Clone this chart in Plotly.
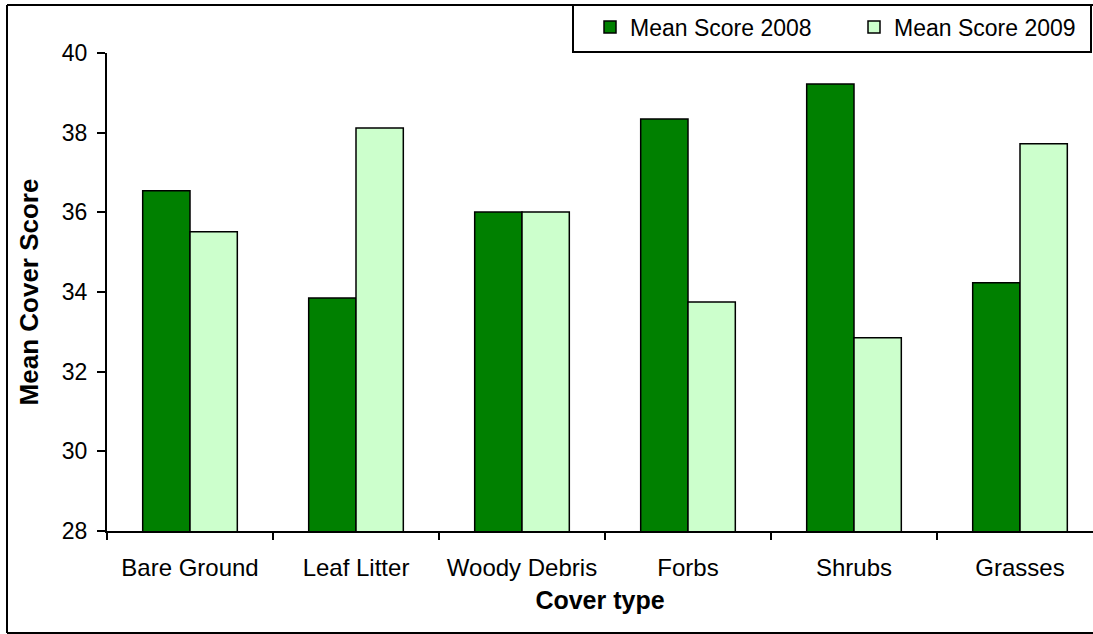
import plotly.graph_objects as go

categories = ["Bare Ground", "Leaf Litter", "Woody Debris", "Forbs", "Shrubs", "Grasses"]
score_2008 = [36.54, 33.85, 36.01, 38.34, 39.22, 34.23]
score_2009 = [35.51, 38.12, 36.01, 33.75, 32.85, 37.72]
y_ticks = [28, 30, 32, 34, 36, 38, 40]

W, H = 1093, 634
L, R, T, B = 107, 0, 53, 103
pw = W - L - R
ph = H - T - B

def px_x(x):
    return (x - L) / pw

def px_y(y):
    return (H - B - y) / ph

fig = go.Figure()
fig.add_trace(go.Bar(name="Mean Score 2008", x=categories, y=score_2008, legend="legend",
                     marker=dict(color="#008000", line=dict(color="black", width=1.5))))
fig.add_trace(go.Bar(name="Mean Score 2009", x=categories, y=score_2009, legend="legend2",
                     marker=dict(color="#CCFFCC", line=dict(color="black", width=1.5))))

font = "Liberation Sans, Arial, sans-serif"
cat_px = 166.0
x_hi = -0.5 + pw / cat_px

leg_common = dict(orientation="h", xanchor="left", yanchor="middle", y=px_y(27),
                  bgcolor="rgba(0,0,0,0)", borderwidth=0, font=dict(size=23))

border = dict(color="black", width=2)
fig.update_layout(
    width=W, height=H,
    margin=dict(l=L, r=R, t=T, b=B, pad=0),
    paper_bgcolor="white", plot_bgcolor="white",
    barmode="group", bargap=0.43, bargroupgap=0,
    font=dict(family=font, size=22, color="black"),
    showlegend=True,
    legend=dict(x=px_x(590), **leg_common),
    legend2=dict(x=px_x(854), **leg_common),
    xaxis=dict(type="category", range=[-0.5, x_hi], showline=True, linecolor="black", linewidth=2,
               ticks="outside", tickson="boundaries", ticklen=7, tickwidth=1.5, tickcolor="black",
               showgrid=False, tickfont=dict(size=24), ticklabelstandoff=14,
               title=dict(text="<b>Cover type</b>", font=dict(size=25), standoff=12)),
    yaxis=dict(range=[28, 40], tickvals=y_ticks, showline=True, linecolor="black", linewidth=2,
               ticks="outside", ticklen=8, tickwidth=1.5, tickcolor="black", showgrid=False,
               zeroline=False, tickfont=dict(size=23), ticklabelstandoff=5,
               title=dict(text="<b>Mean Cover Score</b>", font=dict(size=26), standoff=16)),
    shapes=[
        # outer chart border (left, top, bottom)
        dict(type="line", xref="paper", yref="paper", x0=px_x(7), x1=px_x(7), y0=px_y(633), y1=px_y(5), line=border),
        dict(type="line", xref="paper", yref="paper", x0=px_x(7), x1=px_x(1093), y0=px_y(5), y1=px_y(5), line=border),
        dict(type="line", xref="paper", yref="paper", x0=px_x(7), x1=px_x(1093), y0=px_y(633), y1=px_y(633), line=border),
        # legend box
        dict(type="rect", xref="paper", yref="paper", x0=px_x(573), x1=px_x(1091), y0=px_y(52), y1=px_y(5),
             line=border, fillcolor="rgba(0,0,0,0)", layer="below"),
    ],
)

fig.write_html("out.html", config={"displayModeBar": False},
               post_script="document.body.style.margin='0px';document.body.style.overflow='hidden';")
